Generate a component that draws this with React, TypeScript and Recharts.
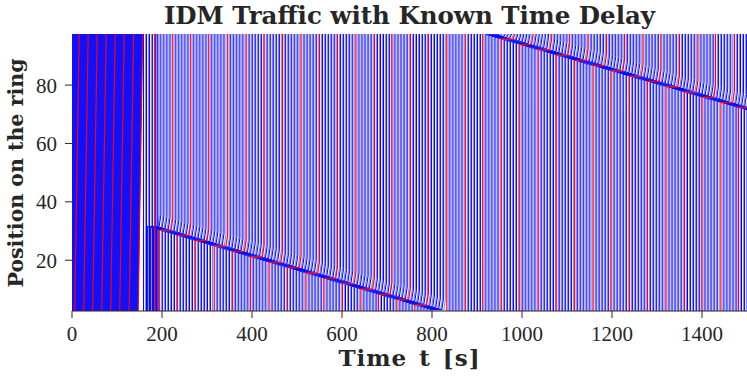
import React from 'react';
import { LineChart, Line, XAxis, YAxis } from 'recharts';

// axis ticks
const X_TICKS = [0, 200, 400, 600, 800, 1000, 1200, 1400];
const Y_TICKS = [20, 40, 60, 80];
const T_MAX = 1500;
const POS_MIN = 2.6;
const POS_MAX = 97.5;

// red trajectories, time (s) they pass mid ring, dense start-up phase
const earlyRed = [11, 31, 51, 71, 91, 111, 132, 152];
// red trajectories after the start-up phase
const lateRed = [
  184, 224, 264, 304, 346, 387, 427, 468, 509, 550, 590, 631, 672, 711, 752, 792, 833,
  874, 913, 954, 995, 1036, 1076, 1117, 1158, 1198, 1239, 1279, 1320, 1361, 1400, 1442, 1481,
];
// blue trajectories, offset (s) after each red one
const earlyBlueOffsets = [2, 4, 6, 8, 10, 12, 14, 16, 18];
const lateBlueOffsets = [6.8, 13.6, 20.3, 27.1, 33.9];
const lateTrailOffset = 4.4; // faint trajectory following each blue/red one
const earlyCrossing = 10; // s needed bottom -> top in start-up phase

// stop-and-go waves: [t start, position start, t end, position end]
const jam1 = [163, 31.7, 801, 2.9];
const jam2 = [914, 97.5, 1500, 71.4];
const stopTime = 30;

type Pt = { t: number; y: number | null };

const jamPos = (jam: number[], t: number) =>
  jam[1] + ((jam[3] - jam[1]) * (t - jam[0])) / (jam[2] - jam[0]);

function earlyPath(tau: number): Pt[] {
  return [
    { t: tau - earlyCrossing / 2, y: POS_MIN },
    { t: tau + earlyCrossing / 2, y: POS_MAX },
    { t: tau + earlyCrossing / 2, y: null },
  ];
}

function latePath(tau: number): Pt[] {
  const below = tau - stopTime;
  if (below >= jam1[0] && below <= jam1[2]) {
    const p = jamPos(jam1, below);
    return [
      { t: below, y: POS_MIN },
      { t: below, y: p },
      { t: tau - 4, y: p },
      { t: tau, y: p + 4 },
      { t: tau, y: POS_MAX },
      { t: tau, y: null },
    ];
  }
  if (tau >= jam2[0] && tau <= jam2[2]) {
    const p = jamPos(jam2, tau);
    return [
      { t: tau, y: POS_MIN },
      { t: tau, y: p },
      { t: tau + stopTime - 4, y: p },
      { t: tau + stopTime, y: Math.min(p + 4, POS_MAX) },
      { t: tau + stopTime, y: POS_MAX },
      { t: tau + stopTime, y: null },
    ];
  }
  return [
    { t: tau, y: POS_MIN },
    { t: tau, y: POS_MAX },
    { t: tau, y: null },
  ];
}

const earlyBlueData: Pt[] = [];
const blueData: Pt[] = [];
const lightData: Pt[] = [];
const redData: Pt[] = [];

earlyRed.forEach((r, i) => {
  redData.push(...earlyPath(r));
  if (i === 0) earlyBlueOffsets.forEach((o) => earlyBlueData.push(...earlyPath(r - o)));
  if (i < earlyRed.length - 1)
    earlyBlueOffsets.forEach((o) => earlyBlueData.push(...earlyPath(r + o)));
});
[earlyRed[earlyRed.length - 1], ...lateRed].forEach((r, i) => {
  if (i > 0) {
    redData.push(...latePath(r));
    lightData.push(...latePath(r + lateTrailOffset));
  }
  lateBlueOffsets.forEach((o) => {
    blueData.push(...latePath(r + o));
    lightData.push(...latePath(r + o + lateTrailOffset));
  });
});

const font = '"DejaVu Serif", serif';
const tickFont = '"Liberation Serif", serif';

const lineProps = {
  dataKey: 'y',
  dot: false,
  activeDot: false,
  isAnimationActive: false,
} as const;

export default function App() {
  return (
    <div style={{ position: 'fixed', left: 0, top: 0, width: 747, height: 381, background: '#fff' }}>
      <LineChart width={747} height={381} margin={{ top: 34, right: 0, bottom: 40, left: 12 }}>
        <XAxis
          dataKey="t"
          type="number"
          domain={[0, T_MAX]}
          ticks={X_TICKS}
          allowDataOverflow
          height={30}
          tickSize={7}
          tickMargin={8}
          stroke="#262626"
          tick={{ fill: '#262626', fontSize: 21, fontFamily: tickFont }}
        />
        <YAxis
          type="number"
          domain={[POS_MIN, POS_MAX]}
          ticks={Y_TICKS}
          allowDataOverflow
          width={60}
          axisLine={false}
          tickSize={7}
          tickMargin={8}
          stroke="#262626"
          tick={{ fill: '#262626', fontSize: 21, fontFamily: tickFont }}
        />
        <Line {...lineProps} data={earlyBlueData} stroke="#1010ff" strokeWidth={2.2} />
        <Line {...lineProps} data={lightData} stroke="#8a8aff" strokeWidth={1.1} />
        <Line {...lineProps} data={blueData} stroke="#0000ff" strokeWidth={1} />
        <Line {...lineProps} data={redData} stroke="#ff0000" strokeWidth={1.2} />
      </LineChart>
      <div
        style={{
          position: 'absolute',
          left: 72,
          width: 675,
          top: 4,
          lineHeight: 1,
          textAlign: 'center',
          fontFamily: font,
          fontWeight: 'bold',
          fontSize: 24.5,
          color: '#262626',
        }}
      >
        IDM Traffic with Known Time Delay
      </div>
      <div
        style={{
          position: 'absolute',
          left: 72,
          width: 675,
          top: 346,
          lineHeight: 1,
          textAlign: 'center',
          fontFamily: font,
          fontWeight: 'bold',
          fontSize: 23,
          letterSpacing: 1,
          wordSpacing: 3,
          color: '#262626',
        }}
      >
        Time t [s]
      </div>
      <div
        style={{
          position: 'absolute',
          left: 16,
          top: 173,
          lineHeight: 1,
          transform: 'translate(-50%, -50%) rotate(-90deg)',
          whiteSpace: 'nowrap',
          fontFamily: font,
          fontWeight: 'bold',
          fontSize: 20.5,
          color: '#262626',
        }}
      >
        Position on the ring
      </div>
    </div>
  );
}
